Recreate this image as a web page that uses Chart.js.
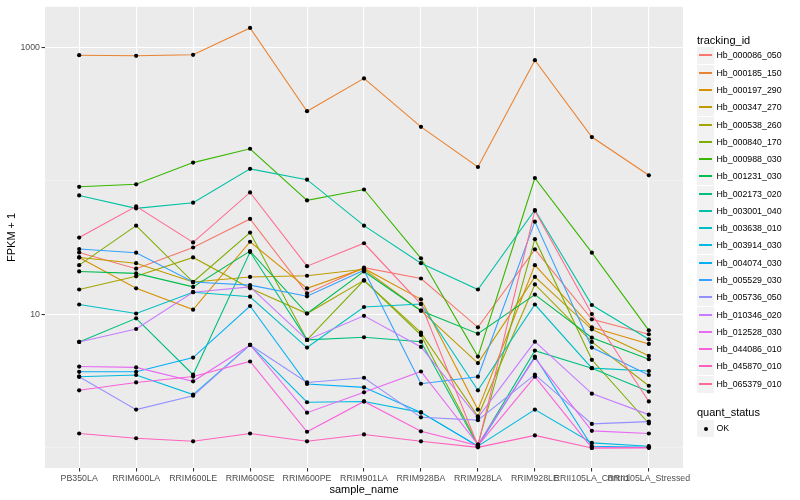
<!DOCTYPE html>
<html>
<head>
<meta charset="utf-8">
<title>FPKM by sample</title>
<script src="https://cdn.jsdelivr.net/npm/chart.js@4.4.0/dist/chart.umd.min.js"></script>
<style>
  body { margin: 0; background: #fff; font-family: "Liberation Sans", Arial, sans-serif; }
  #wrap { position: relative; width: 800px; height: 500px; }
  #chart { position: absolute; left: 0; top: 0; }
  .ltitle { position: absolute; left: 697px; font-size: 11px; line-height: 15px; color: #000; white-space: nowrap; }
  .key { position: absolute; left: 697px; width: 17px; height: 17px; background: #F2F2F2; }
  .kline { position: absolute; left: 2px; width: 13px; top: 7px; height: 2px; }
  .kdot { position: absolute; left: 6.5px; top: 6.5px; width: 4px; height: 4px; border-radius: 50%; background: #000; }
  .llabel { position: absolute; left: 716.5px; font-size: 8.8px; line-height: 17px; color: #000; white-space: nowrap; }
</style>
</head>
<body>
<div id="wrap">
  <canvas id="chart" width="800" height="500"></canvas>
  <div id="legend"></div>
</div>
<script>
// x categories
const samples = ['PB350LA', 'RRIM600LA', 'RRIM600LE', 'RRIM600SE', 'RRIM600PE', 'RRIM901LA',
  'RRIM928BA', 'RRIM928LA', 'RRIM928LE', 'RRII105LA_Control', 'RRII105LA_Stressed'];

// y ticks (log scale): labelled majors and unlabelled minors
const majorTicks = [10, 1000];
const minorTicks = [1, 100];

const trackingIds = ['Hb_000086_050', 'Hb_000185_150', 'Hb_000197_290', 'Hb_000347_270', 'Hb_000538_260',
  'Hb_000840_170', 'Hb_000988_030', 'Hb_001231_030', 'Hb_002173_020', 'Hb_003001_040', 'Hb_003638_010',
  'Hb_003914_030', 'Hb_004074_030', 'Hb_005529_030', 'Hb_005736_050', 'Hb_010346_020', 'Hb_012528_030',
  'Hb_044086_010', 'Hb_045870_010', 'Hb_065379_010'];

// ggplot default hue palette for 20 groups
const seriesColors = ['#F8766D', '#EA8331', '#D89000', '#C09B00', '#A3A500', '#7CAE00', '#39B600',
  '#00BB4E', '#00BF7D', '#00C1A3', '#00BFC4', '#00BAE0', '#00B0F6', '#35A2FF', '#9590FF', '#C77CFF',
  '#E76BF3', '#FA62DB', '#FF62BC', '#FF6C91'];

// FPKM + 1 per sample, one array per gene
const hb000086 = [29.0, 21.9, 31.6, 51.8, 14.3, 22.3, 18.5, 7.96, 30.6, 9.13, 7.06];
const hb000185 = [876, 867, 882, 1403, 333, 587, 254, 127, 804, 213, 110];
const hb000197 = [26.6, 15.6, 10.8, 34.9, 15.6, 22.0, 12.9, 1.92, 23.3, 7.96, 5.97];
const hb000347 = [26.6, 24.1, 17.4, 19.0, 19.4, 21.7, 10.6, 4.29, 19.0, 7.69, 4.86];
const hb000538 = [15.3, 19.2, 26.6, 15.6, 10.1, 17.9, 7.25, 1.71, 16.7, 6.18, 2.90];
const hb000840 = [23.3, 46.1, 17.4, 40.9, 6.40, 17.9, 6.97, 1.05, 36.5, 4.54, 1.51];
const hb000988 = [90.2, 94.2, 137, 174, 71.3, 86.1, 26.2, 4.80, 105, 28.9, 7.55];
const hb001231 = [20.9, 20.2, 16.0, 29.7, 10.1, 20.9, 10.6, 7.13, 14.0, 6.65, 4.59];
const hb002173 = [6.18, 9.29, 3.51, 29.2, 6.40, 6.70, 6.21, 1.03, 5.32, 3.93, 2.62];
const hb003001 = [77.7, 62.1, 68.5, 123, 102, 46.1, 24.1, 15.3, 60.4, 11.7, 6.47];
const hb003638 = [11.8, 10.1, 14.6, 13.5, 5.61, 11.3, 11.9, 2.68, 11.8, 3.93, 3.74];
const hb003914 = [3.39, 3.49, 2.49, 5.87, 2.18, 2.21, 1.83, 1.02, 1.92, 1.08, 1.02];
const hb004074 = [3.69, 3.69, 4.72, 11.5, 2.99, 2.82, 1.83, 1.02, 4.80, 1.02, 1.00];
const hb005529 = [30.8, 28.9, 17.4, 16.5, 13.6, 21.3, 3.00, 3.39, 49.4, 5.61, 3.49];
const hb005736 = [3.39, 1.92, 2.44, 5.87, 3.07, 3.33, 1.68, 1.60, 3.51, 1.50, 1.56];
const hb010346 = [6.18, 7.73, 14.6, 16.0, 6.40, 9.71, 5.67, 1.67, 6.21, 2.53, 1.76];
const hb012528 = [4.04, 3.98, 3.13, 5.87, 1.82, 2.59, 3.71, 1.05, 4.69, 1.33, 1.27];
const hb044086 = [2.68, 3.07, 3.40, 4.41, 1.31, 2.21, 1.32, 1.03, 3.39, 0.99, 1.00];
const hb045870 = [1.27, 1.17, 1.11, 1.27, 1.11, 1.25, 1.11, 1.00, 1.23, 0.99, 0.99];
const hb065379 = [37.5, 64.3, 34.5, 81.8, 22.9, 34.0, 11.9, 1.03, 59.7, 10.0, 2.21];

const seriesValues = [hb000086, hb000185, hb000197, hb000347, hb000538, hb000840, hb000988,
  hb001231, hb002173, hb003001, hb003638, hb003914, hb004074, hb005529, hb005736, hb010346,
  hb012528, hb044086, hb045870, hb065379];

const FONT = '"Liberation Sans", Arial, sans-serif';

// Grey panel behind the grid, like ggplot's theme_grey
const panelBackground = {
  id: 'panelBackground',
  beforeDraw(chart) {
    const { ctx, chartArea: a } = chart;
    ctx.save();
    ctx.fillStyle = '#EBEBEB';
    ctx.fillRect(a.left, a.top, a.right - a.left, a.bottom - a.top);
    ctx.restore();
  }
};

function toPoints(values) {
  return values.map((v, i) => ({ x: i, y: v }));
}

// one line per gene; later genes drawn on top
const datasets = trackingIds.map((id, i) => ({
  label: id,
  data: toPoints(seriesValues[i]),
  borderColor: seriesColors[i],
  backgroundColor: seriesColors[i],
  borderWidth: 1.1,
  pointRadius: 0,
  fill: false,
  tension: 0,
  order: trackingIds.length - i
}));

// all points in black, above every line
datasets.push({
  label: 'OK',
  data: seriesValues.flatMap(toPoints),
  showLine: false,
  pointRadius: 2.1,
  pointBackgroundColor: '#000',
  pointBorderWidth: 0,
  order: 0
});

new Chart(document.getElementById('chart'), {
  type: 'line',
  data: { datasets },
  plugins: [panelBackground],
  options: {
    responsive: false,
    animation: false,
    devicePixelRatio: 1,
    layout: { padding: { top: 5, right: 117, bottom: 0, left: 0 } },
    plugins: { legend: { display: false }, tooltip: { enabled: false } },
    scales: {
      x: {
        type: 'linear',
        min: -0.6,
        max: 10.6,
        afterBuildTicks(scale) { scale.ticks = samples.map((s, i) => ({ value: i })); },
        afterFit(scale) { scale.height = 32; },
        border: { display: false },
        grid: { color: '#FFFFFF', lineWidth: 1.07, tickColor: '#333333', tickLength: 3.5 },
        ticks: {
          autoSkip: false, maxRotation: 0, minRotation: 0, padding: 1.5,
          color: '#4D4D4D', font: { family: FONT, size: 8.8 },
          callback: (v) => samples[v]
        },
        title: { display: true, text: 'sample_name', color: '#000', font: { family: FONT, size: 11 },
                 padding: { top: 4, bottom: 3 } }
      },
      y: {
        type: 'logarithmic',
        min: 0.709,
        max: 2023,
        afterBuildTicks(scale) {
          scale.ticks = [...minorTicks, ...majorTicks].sort((a, b) => a - b).map(v => ({ value: v }));
        },
        afterFit(scale) { scale.width = 45; },
        border: { display: false },
        grid: {
          color: (c) => majorTicks.includes(c.tick.value) ? '#FFFFFF' : '#F5F5F5',
          lineWidth: (c) => majorTicks.includes(c.tick.value) ? 1.07 : 0.6,
          tickColor: (c) => majorTicks.includes(c.tick.value) ? '#333333' : 'rgba(0,0,0,0)',
          tickLength: 3.5
        },
        ticks: {
          padding: 1.5, color: '#4D4D4D', font: { family: FONT, size: 8.8 },
          callback: (v) => majorTicks.includes(v) ? String(v) : ''
        },
        title: { display: true, text: 'FPKM + 1', color: '#000', font: { family: FONT, size: 11 },
                 padding: { top: 5, bottom: 4 } }
      }
    }
  }
});

// ggplot-style legends on the right
const legend = document.getElementById('legend');
let html = '<div class="ltitle" style="top:33px">tracking_id</div>';
trackingIds.forEach((id, i) => {
  const top = Math.round(47.4 + i * 17.28);
  html += `<div class="key" style="top:${top}px"><span class="kline" style="background:${seriesColors[i]}"></span></div>`;
  html += `<div class="llabel" style="top:${top}px">${id}</div>`;
});
html += '<div class="ltitle" style="top:405px">quant_status</div>';
html += '<div class="key" style="top:420px"><span class="kdot"></span></div>';
html += '<div class="llabel" style="top:420px">OK</div>';
legend.innerHTML = html;
</script>
</body>
</html>
